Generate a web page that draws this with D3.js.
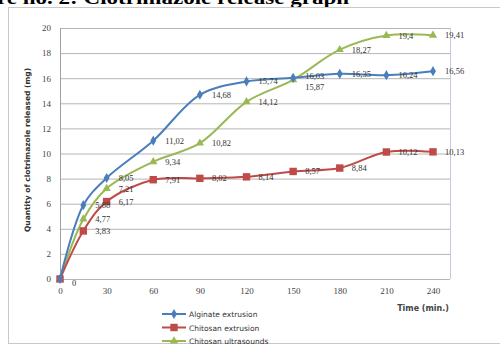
<!DOCTYPE html>
<html><head><meta charset="utf-8">
<script src="https://cdn.jsdelivr.net/npm/d3@7"></script>
<style>body{margin:0;background:#fff;}svg{display:block;}</style>
</head><body>
<svg id="c" width="500" height="347"></svg>
<script>
const times = [0, 15, 30, 60, 90, 120, 150, 180, 210, 240];
const alginateExtrusion = [0, 5.88, 8.05, 11.02, 14.68, 15.74, 16.03, 16.35, 16.24, 16.56];
const chitosanExtrusion = [0, 3.83, 6.17, 7.91, 8.02, 8.14, 8.57, 8.84, 10.12, 10.13];
const chitosanUltrasound = [0, 4.77, 7.21, 9.34, 10.82, 14.12, 15.87, 18.27, 19.4, 19.41];
const seriesNames = ["Alginate extrusion", "Chitosan extrusion", "Chitosan ultrasounds"];
const xTicks = [0, 30, 60, 90, 120, 150, 180, 210, 240];
const yTicks = [0, 2, 4, 6, 8, 10, 12, 14, 16, 18, 20];

const colors = ["#4a7ebb", "#be4b48", "#98b954"];
const symbols = [d3.symbolDiamond, d3.symbolSquare, d3.symbolTriangle];
const symSizes = [30, 55, 30];
const fmt = v => String(v).replace(".", ",");

const svg = d3.select("#c");
// title (cut off at top)
svg.append("text").attr("x", -3).attr("y", 4).attr("font-family", "Liberation Serif, Times New Roman, serif")
  .attr("font-weight", "bold").attr("font-size", 19).attr("fill", "#000")
  .attr("textLength", 352).attr("lengthAdjust", "spacingAndGlyphs")
  .text("re no. 2: Clotrimazole release graph");
// outer chart border
svg.append("rect").attr("x", 8.5).attr("y", 7.5).attr("width", 495).attr("height", 336)
  .attr("fill", "#fff").attr("stroke", "#c8c8c8");

const x = d3.scaleLinear().domain([0, 240]).range([60, 433]);
const y = d3.scaleLinear().domain([0, 20]).range([279, 28]);
const plotRight = 450;

const g = svg.append("g");
g.selectAll("line.grid").data(yTicks).join("line").attr("class", "grid")
  .attr("x1", 60).attr("x2", plotRight).attr("y1", d => y(d) + 0.5).attr("y2", d => y(d) + 0.5)
  .attr("stroke", "#b4b4b4").attr("stroke-width", 1);
g.append("line").attr("x1", 60.5).attr("x2", 60.5).attr("y1", y(20)).attr("y2", y(0)).attr("stroke", "#a0a0a0");
g.append("line").attr("x1", plotRight + 0.5).attr("x2", plotRight + 0.5).attr("y1", y(20)).attr("y2", y(0)).attr("stroke", "#c4c8e0");

const yAxis = d3.axisLeft(y).tickValues(yTicks).tickSize(0).tickPadding(9);
const ya = g.append("g").attr("transform", "translate(60,0)").call(yAxis);
ya.select(".domain").remove();
ya.selectAll("text").attr("font-family", "Liberation Serif, serif").attr("font-size", 9).attr("fill", "#444");
const xAxis = d3.axisBottom(x).tickValues(xTicks).tickSize(0).tickPadding(9);
const xa = g.append("g").attr("transform", "translate(0,279)").call(xAxis);
xa.select(".domain").remove();
xa.selectAll("text").attr("font-family", "Liberation Serif, serif").attr("font-size", 9).attr("fill", "#444");

svg.append("text").attr("transform", "translate(30,150) rotate(-90)").attr("text-anchor", "middle")
  .attr("font-family", "DejaVu Sans, sans-serif").attr("font-weight", "bold").attr("font-size", 7.5).attr("fill", "#333")
  .text("Quantity of clotrimazole released (mg)");
svg.append("text").attr("x", 449).attr("y", 311).attr("text-anchor", "end")
  .attr("font-family", "DejaVu Sans, sans-serif").attr("font-weight", "bold").attr("font-size", 8).attr("fill", "#444")
  .text("Time (min.)");

const allSeries = [alginateExtrusion, chitosanExtrusion, chitosanUltrasound];
const line = d3.line().x(d => x(d[0])).y(d => y(d[1])).curve(d3.curveCatmullRom.alpha(0.5));

[2, 1, 0].forEach(i => {
  const pts = times.map((t, k) => [t, allSeries[i][k]]);
  g.append("path").datum(pts).attr("d", line).attr("fill", "none")
    .attr("stroke", colors[i]).attr("stroke-width", 2);
  g.selectAll("path.m" + i).data(pts).join("path").attr("class", "m" + i)
    .attr("transform", d => `translate(${x(d[0])},${y(d[1])})`)
    .attr("d", d3.symbol().type(symbols[i]).size(symSizes[i])).attr("fill", colors[i]);
});
allSeries.forEach((vals, i) => {
  g.selectAll("text.l" + i).data(times.map((t, k) => [t, vals[k]]).filter(d => d[0] > 0)).join("text")
    .attr("class", "l" + i)
    .attr("x", d => x(d[0]) + 12)
    .attr("y", d => y(d[1]) + 3 + ((i === 2 && d[0] === 150) ? 7 : 0) - ((i === 0 && d[0] === 150) ? 2 : 0))
    .attr("font-family", "Liberation Serif, serif").attr("font-size", 8.5).attr("fill", "#333")
    .text(d => fmt(d[1]));
});
g.append("text").attr("x", x(0) + 12).attr("y", y(0) + 7).attr("font-family", "Liberation Serif, serif")
  .attr("font-size", 8.5).attr("fill", "#333").text("0");

const lg = svg.append("g").attr("transform", "translate(162,314)");
seriesNames.forEach((n, i) => {
  const row = lg.append("g").attr("transform", `translate(0,${i * 13.5})`);
  row.append("line").attr("x1", 0).attr("x2", 24).attr("y1", 0).attr("y2", 0).attr("stroke", colors[i]).attr("stroke-width", 2);
  row.append("path").attr("transform", "translate(12,0)").attr("d", d3.symbol().type(symbols[i]).size(symSizes[i])).attr("fill", colors[i]);
  row.append("text").attr("x", 27).attr("y", 3).attr("font-family", "DejaVu Sans, sans-serif")
    .attr("font-size", 7.5).attr("fill", "#333").text(n);
});
</script>
</body></html>
